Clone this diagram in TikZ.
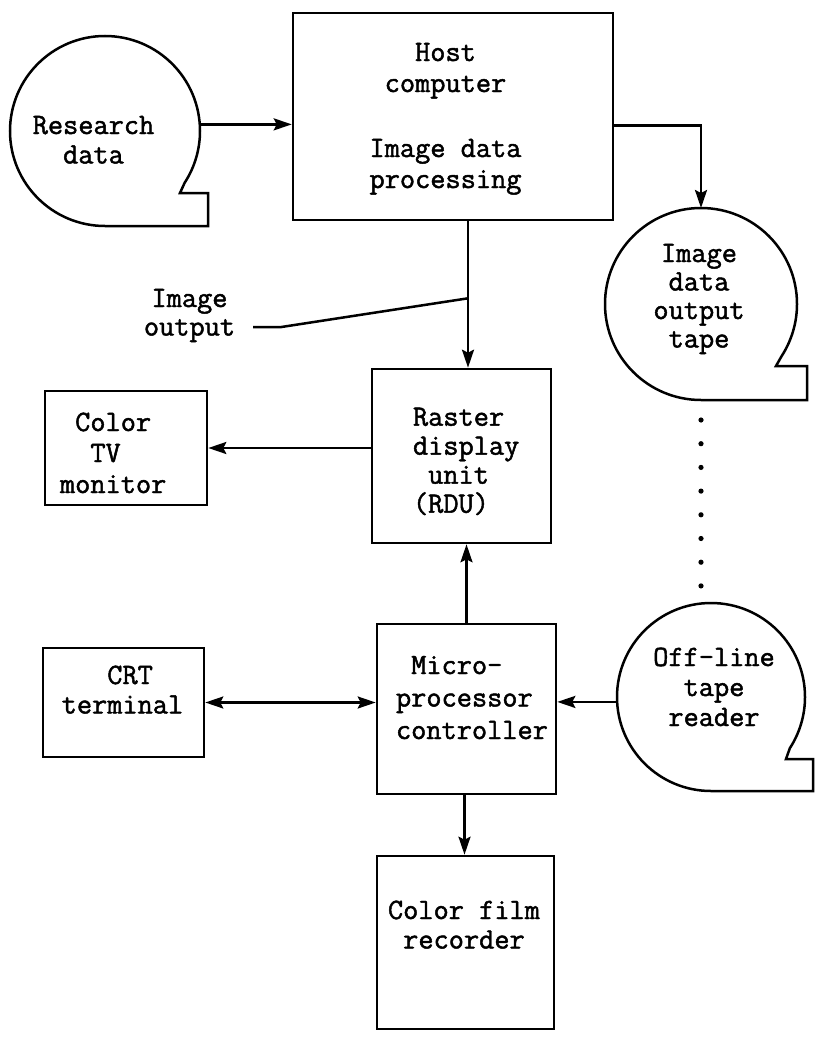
\documentclass[tikz,border=0pt]{standalone}
\usepackage{fontspec}
\usetikzlibrary{arrows.meta}

% typewriter face with a heavier stroke
\newfontfamily\typewriter{Latin Modern Mono}[FakeBold=1.6]
% one typewriter column = 0.525em
\newcommand{\cols}[1]{\hspace*{#1\fontcharwd\font`0}}
% fixed top of the first line of a label
\newcommand{\topline}{\rule{0pt}{23pt}}
% outline of a tape reel around an (invisible) circle node
\newcommand{\tapeshape}[3]{%
  \draw[line] (#1.south) arc[start angle=270, end angle=-33, radius=#2]
    -- ([shift={(75pt,-62pt)}]#1.center)
    -- ([shift={(#3,-62pt)}]#1.center)
    |- (#1.south);}

\begin{document}
\begin{tikzpicture}[x=1pt, y=1pt,
  line/.style={line width=2.5pt, line join=miter},
  box/.style={draw, line width=2.6pt, inner sep=0pt, fill=white},
  reel/.style={circle, draw=none, inner sep=0pt, outer sep=0pt},
  arr/.style={line, -{Stealth[length=18pt, width=12pt, inset=3pt]}},
  arrboth/.style={line, {Stealth[length=18pt, width=12pt, inset=3pt]}-{Stealth[length=18pt, width=12pt, inset=3pt]}},
  txt/.style={inner sep=0pt, outer sep=0pt, font=\fontsize{29.5}{#1}\selectfont\typewriter\bfseries},
  txt/.default=30]

\useasboundingbox (0,0) rectangle (815,-1041);

% blocks
\node[box, minimum width=320pt, minimum height=207pt] (host)  at (453,-116.5) {};
\node[box, minimum width=179pt, minimum height=174pt] (rdu)   at (461.5,-456) {};
\node[box, minimum width=162pt, minimum height=114pt] (tv)    at (126,-448) {};
\node[box, minimum width=161pt, minimum height=109pt] (crt)   at (123.5,-702.5) {};
\node[box, minimum width=179pt, minimum height=170pt] (micro) at (466.5,-709) {};
\node[box, minimum width=177pt, minimum height=173pt] (film)  at (465.5,-942.5) {};

% tape reels
\node[reel, minimum size=190pt] (research) at (105,-131) {};
\node[reel, minimum size=192pt] (outtape)  at (701,-304) {};
\node[reel, minimum size=188pt] (reader)   at (711,-697) {};
\tapeshape{research}{95}{103pt}
\tapeshape{outtape}{96}{106pt}
\tapeshape{reader}{94}{102pt}

% labels
\node[txt=31, align=center, anchor=north] (host-t) at (445.5,-38)
  {\topline Host\\computer\\[34pt]Image data\\processing};
\node[txt=29.5, align=center, anchor=north] (research-t) at (93.5,-111)
  {\topline Research\\data};
\node[txt=28.5, align=center, anchor=north] (outtape-t) at (699,-239)
  {\topline Image\\data\\output\\tape};
\node[txt=30, align=center, anchor=north] (reader-t) at (714,-643)
  {\topline Off-line\\tape\\reader};
\node[txt=28.5, align=center, anchor=north] (imgout) at (189.5,-284)
  {\topline Image\\output};
\node[txt=29, align=left, anchor=north west] (rdu-t) at (413,-402.7)
  {\topline Raster\\display\\\cols{1}unit\\(RDU)};
\node[txt=31, align=left, anchor=north west] (tv-t) at (60,-408)
  {\topline\cols{1}Color\\\cols{2}TV\\monitor};
\node[txt=29.5, align=left, anchor=north west] (crt-t) at (61.7,-661)
  {\topline\cols{3}CRT\\terminal};
\node[txt=32.5, align=left, anchor=north west] (micro-t) at (396,-651)
  {\topline\cols{1}Micro-\\processor\\controller};
\node[txt=29.5, align=left, anchor=north west] (film-t) at (388,-896)
  {\topline Color film\\\cols{1}recorder};

% connectors
\draw[arr] (research.4) -- (research.4 -| host.west);
\draw[arr] ([yshift=-9pt]host.east) -| (outtape.north);
\draw[arr] ([xshift=15pt]host.south) -- ([xshift=15pt]host.south |- rdu.north);
\draw[arr] (rdu.west |- tv.east) -- (tv.east);
\draw[arr] (micro.north) -- (micro.north |- rdu.south);
\draw[arrboth] (crt.east) -- (crt.east -| micro.west);
\draw[arr] (reader.183) -- (reader.183 -| micro.east);
\draw[arr] ([xshift=-2pt]micro.south) -- ([xshift=-2pt]micro.south |- film.north);

% leader from the "Image output" label to the data path
\path ([xshift=15pt]host.south) ++(0,-77pt) coordinate (tap);
\draw[line] ([shift={(18pt,15pt)}]imgout.south east) -- ++(28pt,0) -- (tap);

% dotted link between the two tapes
\foreach \k in {0,...,7}
  \fill (701,{-420-23.7*\k}) circle (2.6pt);

\end{tikzpicture}
\end{document}
